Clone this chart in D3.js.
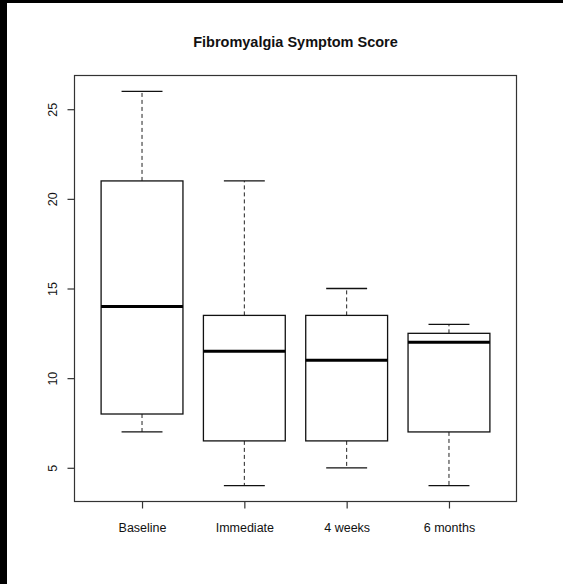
<!DOCTYPE html>
<html>
<head>
<meta charset="utf-8">
<script src="https://cdn.jsdelivr.net/npm/d3@7"></script>
<style>
  html, body { margin: 0; padding: 0; background: #fff; }
  svg { display: block; }
  text { font-family: "Liberation Sans", Arial, Helvetica, sans-serif; fill: #111; }
</style>
</head>
<body>
<svg id="chart" width="563" height="584"></svg>
<script>
// Five-number summaries per time point
const categories = ["Baseline", "Immediate", "4 weeks", "6 months"];
const whiskerLow = [7, 4, 5, 4];
const quartile1  = [8, 6.5, 6.5, 7];
const medians    = [14, 11.5, 11, 12];
const quartile3  = [21, 13.5, 13.5, 12.5];
const whiskerHigh = [26, 21, 15, 13];
const yTicks = [5, 10, 15, 20, 25];
const title = "Fibromyalgia Symptom Score";

const boxes = categories.map((c, i) => ({
  name: c, pos: i + 1,
  lo: whiskerLow[i], q1: quartile1[i], med: medians[i], q3: quartile3[i], hi: whiskerHigh[i]
}));

const svg = d3.select("#chart");

// dark border strips along the page edges
svg.append("rect").attr("x", 0).attr("y", 0).attr("width", 7).attr("height", 584).attr("fill", "#000");
svg.append("rect").attr("x", 0).attr("y", 0).attr("width", 563).attr("height", 3).attr("fill", "#000");

const plot = { left: 74.5, right: 516.5, top: 75.5, bottom: 501.5 };

// R-style 4% padding on both axes
const dataMin = d3.min(whiskerLow), dataMax = d3.max(whiskerHigh);
const padY = (dataMax - dataMin) * 0.04;
const y = d3.scaleLinear().domain([dataMin - padY, dataMax + padY]).range([plot.bottom, plot.top]);
const padX = categories.length * 0.04;
const x = d3.scaleLinear().domain([0.5 - padX, categories.length + 0.5 + padX]).range([plot.left, plot.right]);

// title
svg.append("text")
  .attr("x", (plot.left + plot.right) / 2)
  .attr("y", 46.5)
  .attr("text-anchor", "middle")
  .attr("font-weight", "bold")
  .attr("font-size", "14.5px")
  .text(title);

// plot frame
svg.append("rect")
  .attr("x", plot.left).attr("y", plot.top)
  .attr("width", plot.right - plot.left).attr("height", plot.bottom - plot.top)
  .attr("fill", "none").attr("stroke", "#333").attr("stroke-width", 1.2);

// y axis
const yAxis = d3.axisLeft(y).tickValues(yTicks).tickSize(7).tickPadding(15).tickFormat(d3.format("d"));
const gy = svg.append("g").attr("transform", `translate(${plot.left},0)`).call(yAxis);
gy.select(".domain").remove();
gy.selectAll(".tick line").attr("stroke", "#333").attr("stroke-width", 1.2);
gy.selectAll(".tick text")
  .attr("font-size", "12.5px")
  .attr("font-family", "Liberation Sans, Arial, sans-serif")
  .attr("fill", "#111")
  .attr("text-anchor", "middle")
  .attr("x", 0).attr("dy", 0)
  .attr("transform", "translate(-22,0) rotate(-90)")
  .attr("dominant-baseline", "central");

// x axis
const xAxis = d3.axisBottom(x).tickValues(boxes.map(b => b.pos)).tickSize(7).tickPadding(15)
  .tickFormat((d) => categories[d - 1]);
const gx = svg.append("g").attr("transform", `translate(0,${plot.bottom})`).call(xAxis);
gx.select(".domain").remove();
gx.selectAll(".tick line").attr("stroke", "#333").attr("stroke-width", 1.2);
gx.selectAll(".tick text")
  .attr("font-size", "12.5px")
  .attr("font-family", "Liberation Sans, Arial, sans-serif")
  .attr("fill", "#111");

// boxplots
const boxW = 0.8, capW = 0.4;
const g = svg.append("g").selectAll("g").data(boxes).join("g");

// dashed whiskers
g.append("line")
  .attr("x1", d => x(d.pos)).attr("x2", d => x(d.pos))
  .attr("y1", d => y(d.q3)).attr("y2", d => y(d.hi))
  .attr("stroke", "#222").attr("stroke-width", 1).attr("stroke-dasharray", "4,3");
g.append("line")
  .attr("x1", d => x(d.pos)).attr("x2", d => x(d.pos))
  .attr("y1", d => y(d.q1)).attr("y2", d => y(d.lo))
  .attr("stroke", "#222").attr("stroke-width", 1).attr("stroke-dasharray", "4,3");

// whisker caps
g.append("line")
  .attr("x1", d => x(d.pos - capW / 2)).attr("x2", d => x(d.pos + capW / 2))
  .attr("y1", d => y(d.hi)).attr("y2", d => y(d.hi))
  .attr("stroke", "#111").attr("stroke-width", 1.3);
g.append("line")
  .attr("x1", d => x(d.pos - capW / 2)).attr("x2", d => x(d.pos + capW / 2))
  .attr("y1", d => y(d.lo)).attr("y2", d => y(d.lo))
  .attr("stroke", "#111").attr("stroke-width", 1.3);

// boxes
g.append("rect")
  .attr("x", d => x(d.pos - boxW / 2))
  .attr("width", d => x(d.pos + boxW / 2) - x(d.pos - boxW / 2))
  .attr("y", d => y(d.q3))
  .attr("height", d => y(d.q1) - y(d.q3))
  .attr("fill", "#fff").attr("stroke", "#111").attr("stroke-width", 1.3);

// medians
g.append("line")
  .attr("x1", d => x(d.pos - boxW / 2)).attr("x2", d => x(d.pos + boxW / 2))
  .attr("y1", d => y(d.med)).attr("y2", d => y(d.med))
  .attr("stroke", "#000").attr("stroke-width", 3);
</script>
</body>
</html>
